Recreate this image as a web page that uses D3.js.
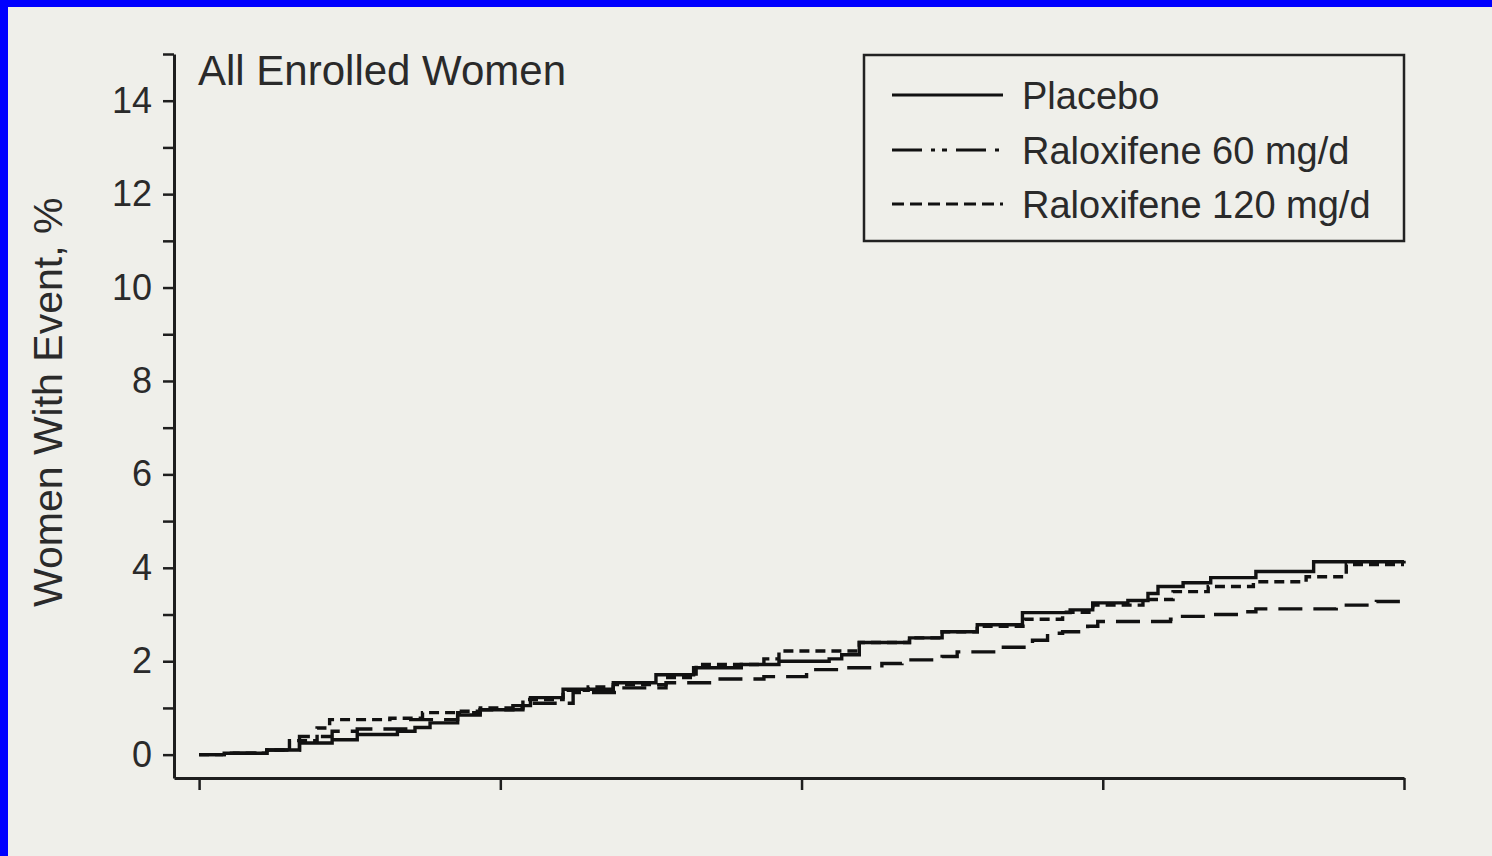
<!DOCTYPE html>
<html>
<head>
<meta charset="utf-8">
<script src="https://cdn.jsdelivr.net/npm/d3@7"></script>
<style>
  html, body { margin: 0; padding: 0; background: #0000ff; }
  svg { display: block; }
  text { font-family: "Liberation Sans", Arial, sans-serif; fill: #2a2a2a; }
</style>
</head>
<body>
<script>
// ---- Data (months since enrollment, cumulative % women with event) ----
const placebo = [
  [0,0],[1.0,0.03],[2.7,0.1],[4.0,0.25],[5.3,0.32],[6.3,0.43],[7.9,0.5],[8.6,0.58],
  [9.2,0.68],[10.3,0.85],[11.2,0.96],[12.5,1.05],[13.2,1.22],[14.5,1.4],[16.5,1.54],
  [18.2,1.71],[19.7,1.86],[21.6,1.93],[23.1,2.0],[25.1,2.05],[25.6,2.14],[26.3,2.4],
  [28.3,2.5],[29.6,2.63],[31.0,2.78],[32.8,3.04],[34.7,3.1],[35.6,3.25],[37.0,3.3],
  [37.8,3.45],[38.2,3.6],[39.2,3.68],[40.3,3.79],[42.1,3.92],[44.4,4.13],[48,4.15]
];
const ral120 = [
  [0,0],[1.0,0.03],[2.7,0.1],[3.6,0.3],[4.7,0.57],[5.2,0.75],[7.6,0.78],[8.9,0.9],
  [10.3,0.93],[11.2,1.0],[12.9,1.18],[14.5,1.38],[15.5,1.45],[16.5,1.5],[18.6,1.65],
  [19.8,1.93],[22.5,2.05],[23.1,2.22],[26.3,2.4],[28.3,2.5],[29.6,2.63],[31.0,2.75],
  [32.9,2.9],[34.4,3.05],[35.6,3.2],[37.6,3.32],[38.8,3.49],[40.2,3.6],[42.0,3.7],
  [44.1,3.81],[45.7,4.07],[48,4.07]
];
const ral60 = [
  [0,0],[1.0,0.03],[2.7,0.1],[4.0,0.39],[5.3,0.5],[6.3,0.55],[8.3,0.75],[10.3,0.9],
  [11.2,0.96],[12.9,1.1],[14.9,1.33],[16.8,1.43],[18.6,1.54],[20.5,1.62],[22.5,1.67],
  [24.2,1.82],[25.5,1.86],[27.2,1.95],[28.0,2.03],[29.6,2.1],[30.2,2.2],[31.8,2.3],
  [33.2,2.45],[33.8,2.6],[34.4,2.63],[35.4,2.75],[35.8,2.85],[38.7,2.9],[39.1,2.96],
  [40.5,3.0],[41.5,3.06],[42.1,3.12],[45.3,3.2],[46.9,3.28],[47.96,3.38],[48,3.38]
];
const xTicks = [0, 12, 24, 36, 48];
const yTicks = [0,1,2,3,4,5,6,7,8,9,10,11,12,13,14,15];
const yLabels = [0, 2, 4, 6, 8, 10, 12, 14];
const seriesNames = ["Placebo", "Raloxifene 60 mg/d", "Raloxifene 120 mg/d"];
const titleText = "All Enrolled Women";
const yTitle = "Women With Event, %";

// ---- Layout ----
const W = 1492, H = 856;
const svg = d3.select("body").append("svg").attr("width", W).attr("height", H);
// paper (blue border only on left and top)
svg.append("rect").attr("x", 8).attr("y", 7).attr("width", W - 8).attr("height", H - 7).attr("fill", "#efefea");

const x = d3.scaleLinear().domain([-1, 48]).range([174, 1404]);
const y = d3.scaleLinear().domain([-0.5, 15]).range([778, 54]);

const axisColor = "#1e1e1e";

// Y axis
const yAxis = svg.append("g").attr("transform", `translate(${x(-1)},0)`)
  .call(d3.axisLeft(y).tickValues(yTicks).tickSize(11).tickSizeOuter(0).tickPadding(11)
    .tickFormat(d => yLabels.includes(d) ? String(d) : ""));
yAxis.select(".domain").attr("stroke", axisColor).attr("stroke-width", 3);
yAxis.selectAll(".tick line").attr("stroke", axisColor).attr("stroke-width", 2.5);
yAxis.selectAll(".tick text").style("font-size", "36px").attr("fill", "#2a2a2a")
  .style("font-family", "'Liberation Sans', Arial, sans-serif");

// X axis
const xAxis = svg.append("g").attr("transform", `translate(0,${y(-0.5)})`)
  .call(d3.axisBottom(x).tickValues(xTicks).tickSize(12).tickSizeOuter(0).tickFormat(""));
xAxis.select(".domain").attr("stroke", axisColor).attr("stroke-width", 3);
xAxis.selectAll(".tick line").attr("stroke", axisColor).attr("stroke-width", 2.5);

// Lines
const line = d3.line().x(d => x(d[0])).y(d => y(d[1])).curve(d3.curveStepAfter);
const styles = [
  { data: placebo, dash: null },
  { data: ral60, dash: "24,11" },
  { data: ral120, dash: "10,6" }
];
styles.forEach(s => {
  svg.append("path").attr("d", line(s.data)).attr("fill", "none")
    .attr("stroke", "#111").attr("stroke-width", 3.4)
    .attr("stroke-linejoin", "miter")
    .attr("stroke-dasharray", s.dash);
});

// Title
svg.append("text").attr("x", 198).attr("y", 85).text(titleText)
  .style("font-size", "42px");

// Y title
svg.append("text")
  .attr("transform", `translate(62,${y(7.5) - 2}) rotate(-90)`)
  .attr("text-anchor", "middle").text(yTitle).style("font-size", "41px");

// Legend
const lg = svg.append("g");
lg.append("rect").attr("x", 864).attr("y", 55).attr("width", 540).attr("height", 186)
  .attr("fill", "none").attr("stroke", "#222").attr("stroke-width", 2.5);
const legendDash = [null, "30,9,4,7,5,9", "12,6"];
const legendY = [95, 150, 204];
seriesNames.forEach((n, i) => {
  lg.append("line").attr("x1", 892).attr("x2", 1003).attr("y1", legendY[i]).attr("y2", legendY[i])
    .attr("stroke", "#111").attr("stroke-width", 3).attr("stroke-dasharray", legendDash[i]);
  lg.append("text").attr("x", 1022).attr("y", legendY[i] + 14).text(n).style("font-size", "38px");
});
</script>
</body>
</html>
